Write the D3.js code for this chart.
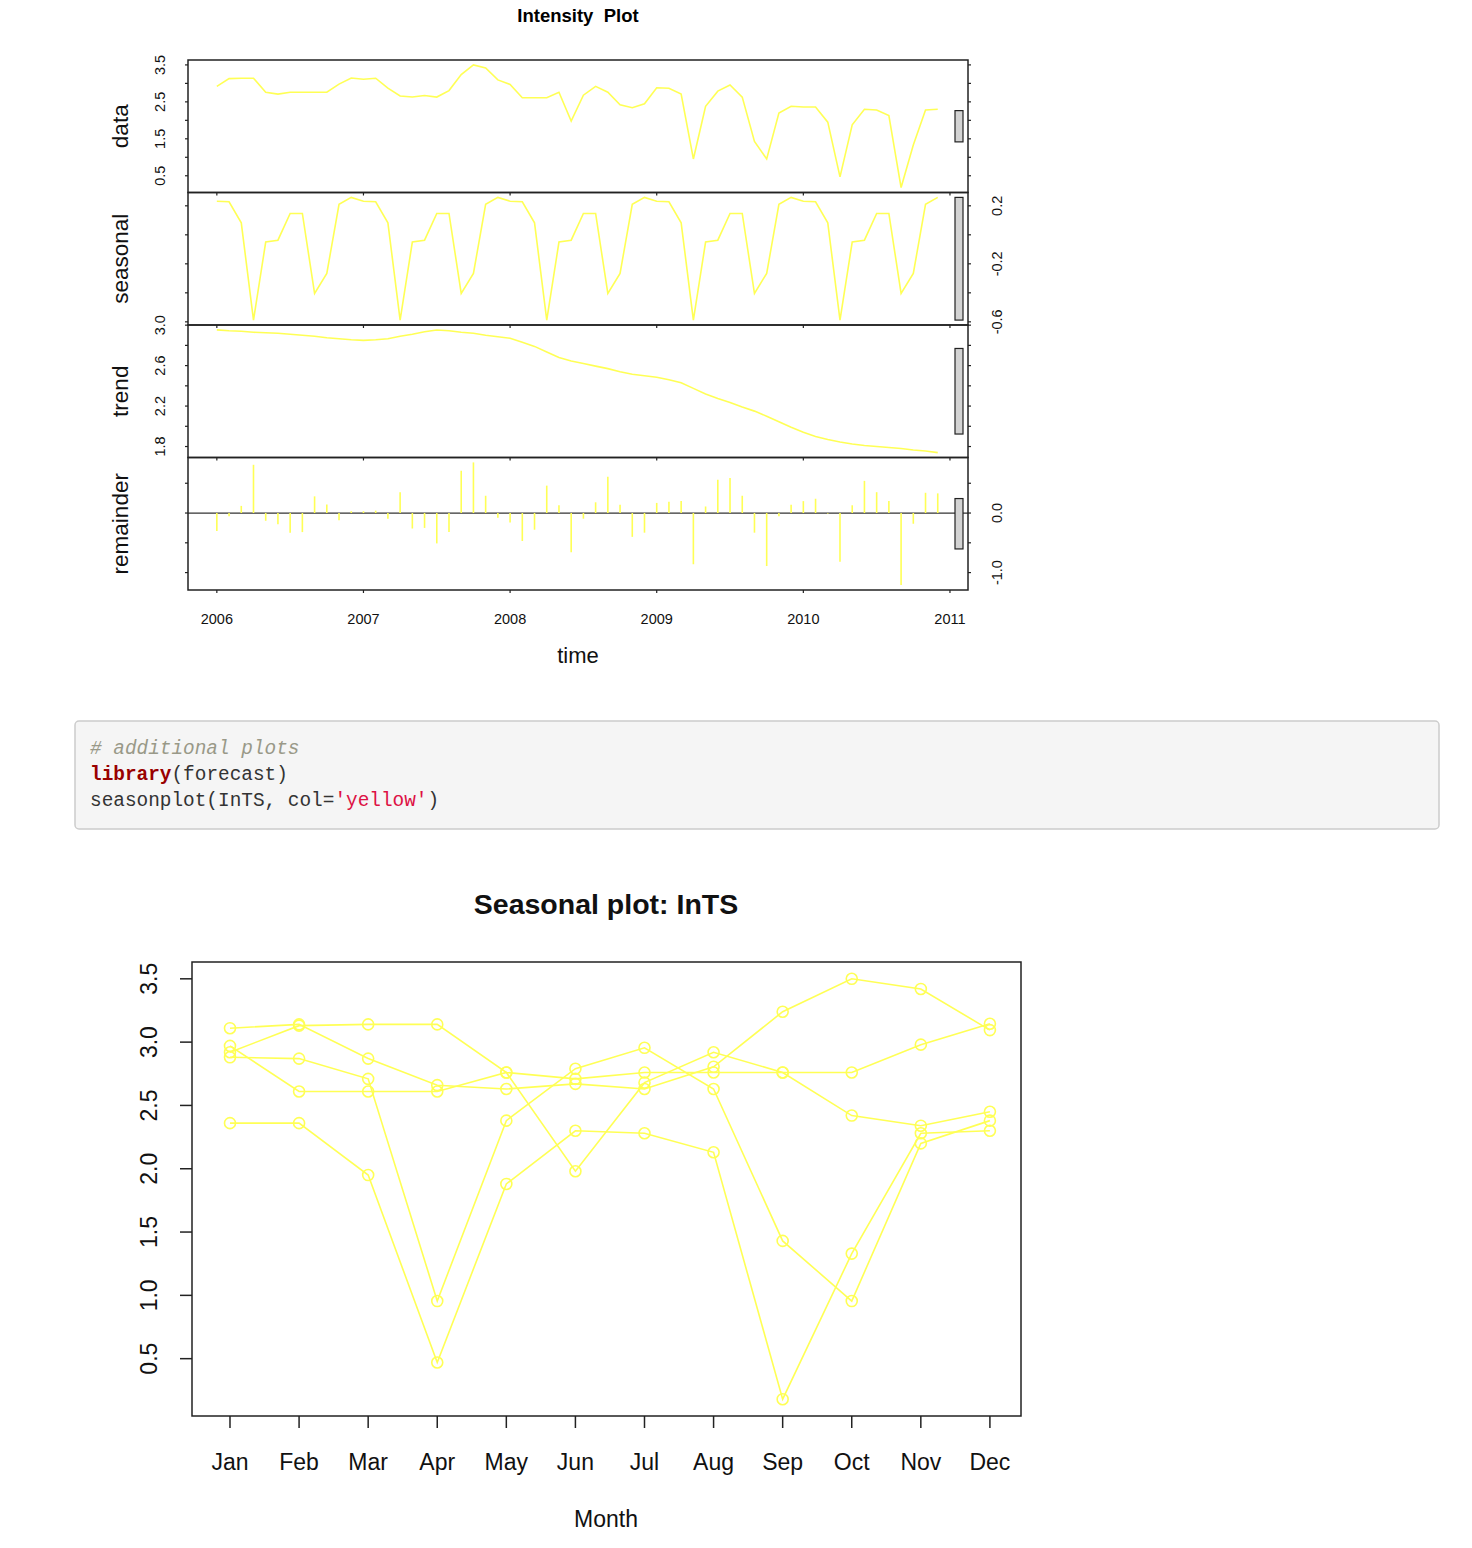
<!DOCTYPE html>
<html><head><meta charset="utf-8">
<script src="https://cdn.jsdelivr.net/npm/d3@7"></script>
<style>body{margin:0;background:#fff;} svg{display:block;}</style>
</head><body>
<div id="chart"></div>
<script>
// ---------- data ----------
const years = [2006, 2007, 2008, 2009, 2010];
const monthLabels = ["Jan","Feb","Mar","Apr","May","Jun","Jul","Aug","Sep","Oct","Nov","Dec"];
const values2006 = [2.92, 3.13, 3.14, 3.14, 2.76, 2.71, 2.76, 2.76, 2.76, 2.76, 2.98, 3.145];
const values2007 = [3.11, 3.14, 2.87, 2.66, 2.63, 2.67, 2.63, 2.805, 3.24, 3.50, 3.42, 3.095];
const values2008 = [2.97, 2.61, 2.61, 2.61, 2.76, 1.98, 2.68, 2.92, 2.76, 2.42, 2.34, 2.45];
const values2009 = [2.88, 2.87, 2.71, 0.955, 2.38, 2.79, 2.955, 2.63, 1.43, 0.955, 2.20, 2.38];
const values2010 = [2.36, 2.36, 1.95, 0.47, 1.88, 2.30, 2.28, 2.13, 0.18, 1.33, 2.28, 2.30];

const seasonalComp = [
  0.232, 0.228, 0.083, -0.588, -0.050, -0.037, 0.147, 0.147, -0.404, -0.266, 0.210, 0.258,
  0.232, 0.228, 0.083, -0.588, -0.050, -0.037, 0.147, 0.147, -0.404, -0.266, 0.210, 0.258,
  0.232, 0.228, 0.083, -0.588, -0.050, -0.037, 0.147, 0.147, -0.404, -0.266, 0.210, 0.258,
  0.232, 0.228, 0.083, -0.588, -0.050, -0.037, 0.147, 0.147, -0.404, -0.266, 0.210, 0.258,
  0.232, 0.228, 0.083, -0.588, -0.050, -0.037, 0.147, 0.147, -0.404, -0.266, 0.210, 0.258];
const trendComp = [
  2.953, 2.945, 2.940, 2.930, 2.925, 2.920, 2.910, 2.900, 2.890, 2.875, 2.865, 2.855,
  2.850, 2.855, 2.865, 2.890, 2.910, 2.935, 2.952, 2.945, 2.930, 2.920, 2.900, 2.885,
  2.870, 2.830, 2.790, 2.735, 2.680, 2.645, 2.620, 2.595, 2.570, 2.540, 2.515, 2.500,
  2.485, 2.460, 2.430, 2.375, 2.320, 2.275, 2.235, 2.190, 2.150, 2.100, 2.045, 1.990,
  1.940, 1.900, 1.870, 1.845, 1.825, 1.810, 1.800, 1.790, 1.780, 1.765, 1.755, 1.740];
const remainderComp = [
  -0.30, -0.055, 0.12, 0.81, -0.13, -0.19, -0.33, -0.32, 0.28, 0.145, -0.12, 0.03,
  0.03, 0.04, -0.095, 0.35, -0.26, -0.25, -0.51, -0.32, 0.71, 0.85, 0.29, -0.08,
  -0.16, -0.47, -0.28, 0.46, 0.13, -0.66, -0.095, 0.18, 0.61, 0.14, -0.40, -0.33,
  0.17, 0.19, 0.20, -0.86, 0.11, 0.56, 0.59, 0.29, -0.33, -0.89, -0.055, 0.14,
  0.20, 0.24, -0.01, -0.82, 0.13, 0.54, 0.35, 0.20, -1.21, -0.18, 0.34, 0.33];

const yearTicks = [2006, 2007, 2008, 2009, 2010, 2011];
const dataTicks = [0.5, 1.0, 1.5, 2.0, 2.5, 3.0, 3.5];
const dataTickLabels = [0.5, 1.5, 2.5, 3.5];
const seasonalTicks = [-0.6, -0.4, -0.2, 0.0, 0.2];
const seasonalTickLabels = [-0.6, -0.2, 0.2];
const trendTicks = [1.8, 2.0, 2.2, 2.4, 2.6, 2.8, 3.0];
const trendTickLabels = [1.8, 2.2, 2.6, 3.0];
const remainderTicks = [-1.0, -0.5, 0.0, 0.5];
const remainderTickLabels = [-1.0, 0.0];
const seasonYTicks = [0.5, 1.0, 1.5, 2.0, 2.5, 3.0, 3.5];

const yearSeries = [values2006, values2007, values2008, values2009, values2010];
const dataSeries = [].concat(values2006, values2007, values2008, values2009, values2010);
const timeIndex = dataSeries.map((d, i) => years[0] + i / 12);

// ---------- drawing ----------
const W = 1472, H = 1548;
const YEL = "#ffff55";
const FONT = "'Liberation Sans', Arial, Helvetica, sans-serif";
const svg = d3.select("#chart").append("svg").attr("width", W).attr("height", H)
  .style("font-family", FONT);

const fmt1 = v => v.toFixed(1);

// ===== STL plot =====
const px0 = 188, px1 = 968;
const panelTop = 60, panelH = 132.5;
const tSpan = timeIndex[timeIndex.length - 1] - timeIndex[0];
const x = d3.scaleLinear().domain([timeIndex[0] - 0.04 * tSpan, 2011.123]).range([px0, px1]);

svg.append("text").attr("x", 578).attr("y", 22).attr("text-anchor", "middle")
  .style("white-space", "pre").attr("xml:space", "preserve")
  .attr("font-size", 18.5).attr("font-weight", "bold").text("Intensity  Plot");

const comps = [
  {name: "data", vals: dataSeries, ticks: dataTicks, labels: dataTickLabels, side: "left", type: "line"},
  {name: "seasonal", vals: seasonalComp, ticks: seasonalTicks, labels: seasonalTickLabels, side: "right", type: "line"},
  {name: "trend", vals: trendComp, ticks: trendTicks, labels: trendTickLabels, side: "left", type: "line"},
  {name: "remainder", vals: remainderComp, ticks: remainderTicks, labels: remainderTickLabels, side: "right", type: "bar"}
];
const barLen = d3.min(comps, c => d3.max(c.vals) - d3.min(c.vals));

comps.forEach((c, k) => {
  const top = panelTop + k * panelH, bot = top + panelH;
  const ext = d3.extent(c.vals);
  const pad = 0.04 * (ext[1] - ext[0]);
  const y = d3.scaleLinear().domain([ext[0] - pad, ext[1] + pad]).range([bot, top]);
  const g = svg.append("g");

  if (c.type === "line") {
    g.append("path").datum(c.vals)
      .attr("d", d3.line().x((d, i) => x(timeIndex[i])).y(d => y(d)))
      .attr("fill", "none").attr("stroke", YEL).attr("stroke-width", 1.6);
  } else {
    g.append("line").attr("x1", px0).attr("x2", px1).attr("y1", y(0)).attr("y2", y(0))
      .attr("stroke", "#333").attr("stroke-width", 1.2);
    g.selectAll("line.bar").data(c.vals).enter().append("line").attr("class", "bar")
      .attr("x1", (d, i) => x(timeIndex[i])).attr("x2", (d, i) => x(timeIndex[i]))
      .attr("y1", y(0)).attr("y2", d => y(d))
      .attr("stroke", YEL).attr("stroke-width", 1.6);
  }

  // range bar
  const mid = (ext[0] + ext[1]) / 2;
  g.append("rect").attr("x", 955).attr("width", 8)
    .attr("y", y(mid + barLen / 2)).attr("height", y(mid - barLen / 2) - y(mid + barLen / 2))
    .attr("fill", "#d3d3d3").attr("stroke", "#222").attr("stroke-width", 1.2);

  // box
  g.append("rect").attr("x", px0).attr("y", top).attr("width", px1 - px0).attr("height", panelH)
    .attr("fill", "none").attr("stroke", "#222").attr("stroke-width", 1.5);

  // y ticks both sides
  c.ticks.forEach(t => {
    g.append("line").attr("x1", px0).attr("x2", px0 - 3).attr("y1", y(t)).attr("y2", y(t))
      .attr("stroke", "#222").attr("stroke-width", 1.2);
    g.append("line").attr("x1", px1).attr("x2", px1 + 3).attr("y1", y(t)).attr("y2", y(t))
      .attr("stroke", "#222").attr("stroke-width", 1.2);
  });
  const lx = c.side === "left" ? 160 : 997;
  c.labels.forEach(t => {
    g.append("text").attr("transform", `translate(${lx},${y(t)}) rotate(-90)`)
      .attr("text-anchor", "middle").attr("dy", "0.35em").attr("font-size", 14.5).attr("fill", "#111")
      .text(fmt1(t));
  });
  // x ticks at bottom of panel
  yearTicks.forEach(yr => {
    g.append("line").attr("x1", x(yr)).attr("x2", x(yr)).attr("y1", bot).attr("y2", bot + 3)
      .attr("stroke", "#222").attr("stroke-width", 1.2);
  });
  // y label
  g.append("text").attr("transform", `translate(120,${(top + bot) / 2}) rotate(-90)`)
    .attr("text-anchor", "middle").attr("dy", "0.35em").attr("font-size", 22.5).attr("fill", "#111")
    .text(c.name);
});

const stlBottom = panelTop + 4 * panelH;
yearTicks.forEach(yr => {
  svg.append("text").attr("x", x(yr)).attr("y", stlBottom + 34).attr("text-anchor", "middle")
    .attr("font-size", 14.5).attr("fill", "#111").text(yr);
});
svg.append("text").attr("x", 578).attr("y", 663).attr("text-anchor", "middle")
  .attr("font-size", 22).attr("fill", "#111").text("time");

// ===== code block =====
const code = svg.append("g");
code.append("rect").attr("x", 75).attr("y", 721).attr("width", 1364).attr("height", 108).attr("rx", 4)
  .attr("fill", "#f5f5f5").attr("stroke", "#cccccc").attr("stroke-width", 1.5);
const mono = "'Liberation Mono', 'DejaVu Sans Mono', monospace";
const codeFs = 19.4;
code.append("text").attr("x", 90).attr("y", 754).attr("font-family", mono).attr("font-size", codeFs)
  .attr("font-style", "italic").attr("fill", "#999988").text("# additional plots");
const l2 = code.append("text").attr("x", 90).attr("y", 780).attr("font-family", mono).attr("font-size", codeFs).attr("fill", "#333");
l2.append("tspan").attr("font-weight", "bold").attr("fill", "#990000").text("library");
l2.append("tspan").text("(forecast)");
const l3 = code.append("text").attr("x", 90).attr("y", 806).attr("font-family", mono).attr("font-size", codeFs).attr("fill", "#333");
l3.append("tspan").text("seasonplot(InTS, col=");
l3.append("tspan").attr("fill", "#dd1144").text("'yellow'");
l3.append("tspan").text(")");

// ===== seasonal plot =====
const sx0 = 192, sx1 = 1021, sy0 = 962, sy1 = 1416;
const allVals = yearSeries.flat();
const sExt = d3.extent(allVals);
const sPad = 0.04 * (sExt[1] - sExt[0]);
const sy = d3.scaleLinear().domain([sExt[0] - sPad, sExt[1] + sPad]).range([sy1, sy0]);
const sx = d3.scaleLinear().domain([0.45, 12.45]).range([sx0, sx1]);

svg.append("text").attr("x", 606).attr("y", 914).attr("text-anchor", "middle")
  .attr("font-size", 28.5).attr("font-weight", "bold").attr("fill", "#111").text("Seasonal plot: InTS");

const sg = svg.append("g");
yearSeries.forEach(vals => {
  sg.append("path").datum(vals)
    .attr("d", d3.line().x((d, i) => sx(i + 1)).y(d => sy(d)))
    .attr("fill", "none").attr("stroke", YEL).attr("stroke-width", 1.6);
  sg.selectAll(null).data(vals).enter().append("circle")
    .attr("cx", (d, i) => sx(i + 1)).attr("cy", d => sy(d)).attr("r", 5.5)
    .attr("fill", "none").attr("stroke", YEL).attr("stroke-width", 1.6);
});
sg.append("rect").attr("x", sx0).attr("y", sy0).attr("width", sx1 - sx0).attr("height", sy1 - sy0)
  .attr("fill", "none").attr("stroke", "#222").attr("stroke-width", 1.5);

seasonYTicks.forEach(t => {
  sg.append("line").attr("x1", sx0).attr("x2", sx0 - 12).attr("y1", sy(t)).attr("y2", sy(t))
    .attr("stroke", "#222").attr("stroke-width", 1.5);
  sg.append("text").attr("transform", `translate(149,${sy(t)}) rotate(-90)`)
    .attr("text-anchor", "middle").attr("dy", "0.35em").attr("font-size", 23).attr("fill", "#111")
    .text(fmt1(t));
});
monthLabels.forEach((m, i) => {
  sg.append("line").attr("x1", sx(i + 1)).attr("x2", sx(i + 1)).attr("y1", sy1).attr("y2", sy1 + 12)
    .attr("stroke", "#222").attr("stroke-width", 1.5);
  sg.append("text").attr("x", sx(i + 1)).attr("y", 1470).attr("text-anchor", "middle")
    .attr("font-size", 23).attr("fill", "#111").text(m);
});
svg.append("text").attr("x", 606).attr("y", 1527).attr("text-anchor", "middle")
  .attr("font-size", 23).attr("fill", "#111").text("Month");
</script>
</body></html>
